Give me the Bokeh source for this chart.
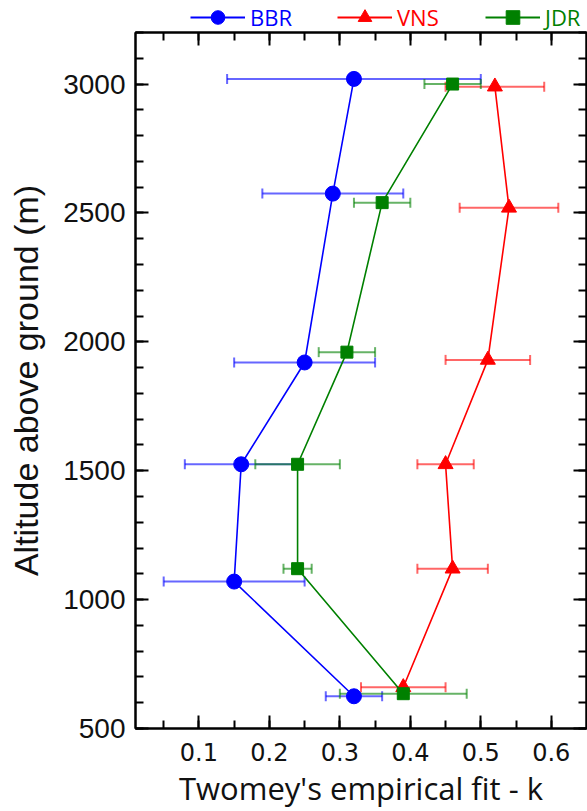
from bokeh.plotting import figure
from bokeh.layouts import column
from bokeh.models import (ColumnDataSource, Whisker, TeeHead, Legend, LegendItem,
                          LinearAxis, SingleIntervalTicker, Range1d, CustomJSTickFormatter)
from bokeh.embed import file_html
from bokeh.resources import INLINE

# ---- data ----
alt_bbr = [3020, 2575, 1920, 1525, 1070, 625]
k_bbr = [0.32, 0.29, 0.25, 0.16, 0.15, 0.32]
lo_bbr = [0.14, 0.19, 0.15, 0.08, 0.05, 0.28]
hi_bbr = [0.50, 0.39, 0.35, 0.24, 0.25, 0.36]

alt_vns = [2990, 2520, 1930, 1525, 1120, 660]
k_vns = [0.52, 0.54, 0.51, 0.45, 0.46, 0.39]
lo_vns = [0.45, 0.47, 0.45, 0.41, 0.41, 0.33]
hi_vns = [0.59, 0.61, 0.57, 0.49, 0.51, 0.45]

alt_jdr = [3000, 2540, 1960, 1525, 1120, 635]
k_jdr = [0.46, 0.36, 0.31, 0.24, 0.24, 0.39]
lo_jdr = [0.42, 0.32, 0.27, 0.18, 0.22, 0.30]
hi_jdr = [0.50, 0.40, 0.35, 0.30, 0.26, 0.48]

series_names = ["BBR", "VNS", "JDR"]
series_colors = ["#0000FF", "#FF0000", "#008000"]
series_markers = ["circle", "triangle", "square"]
series_sizes = [15, 15, 12]

x_label = "Twomey's empirical fit - k"
y_label = "Altitude above ground (m)"

# ---- legend strip (separate small figure above the plot; its frame aligns with the plot's) ----
lg = figure(width=587, height=31, output_backend="svg", toolbar_location=None,
            x_axis_location=None, y_axis_location=None,
            min_border_left=0, min_border_right=0, min_border_top=0, min_border_bottom=0,
            x_range=Range1d(0, 1), y_range=Range1d(0, 1))
lg.grid.visible = False
lg.outline_line_color = None

# ---- main plot ----
p = figure(width=587, height=780, output_backend="svg", toolbar_location=None,
           x_range=Range1d(0.01, 0.65), y_range=Range1d(500, 3200),
           min_border_left=135, min_border_right=1, min_border_top=1,
           min_border_bottom=79)
p.grid.visible = False
p.outline_line_color = "black"
p.outline_line_width = 2
p.background_fill_color = "white"

xt = SingleIntervalTicker(interval=0.1, num_minor_ticks=2)
yt = SingleIntervalTicker(interval=500, num_minor_ticks=5)


def style_axis(ax, ticker, show_labels):
    ax.ticker = ticker
    ax.axis_line_color = "black"
    ax.axis_line_width = 2
    ax.major_tick_line_color = "black"
    ax.minor_tick_line_color = "black"
    ax.major_tick_line_width = 2
    ax.minor_tick_line_width = 2
    ax.major_tick_in = 13
    ax.major_tick_out = 0
    ax.minor_tick_in = 8
    ax.minor_tick_out = 0
    if not show_labels:
        ax.formatter = CustomJSTickFormatter(code="return ''")
        ax.major_label_text_font_size = "1px"
        ax.major_label_standoff = 0


style_axis(p.xaxis[0], xt, True)
style_axis(p.yaxis[0], yt, True)

p.xaxis.major_label_text_font = "DejaVu Sans"
p.xaxis.major_label_text_font_size = "24px"
p.xaxis.major_label_text_color = "#111111"
p.xaxis.major_label_standoff = 14
p.xaxis.axis_label = x_label
p.xaxis.axis_label_text_font = "Open Sans"
p.xaxis.axis_label_text_font_size = "31px"
p.xaxis.axis_label_text_font_style = "normal"
p.xaxis.axis_label_text_color = "#111111"
p.xaxis.axis_label_standoff = 3

p.yaxis.major_label_text_font = "Liberation Sans"
p.yaxis.major_label_text_font_size = "28px"
p.yaxis.major_label_text_color = "#111111"
p.yaxis.major_label_standoff = 10
p.yaxis.axis_label = y_label
p.yaxis.axis_label_text_font = "Liberation Sans"
p.yaxis.axis_label_text_font_size = "34px"
p.yaxis.axis_label_text_font_style = "normal"
p.yaxis.axis_label_text_color = "#111111"
p.yaxis.axis_label_standoff = 15

top_ax = LinearAxis()
style_axis(top_ax, SingleIntervalTicker(interval=0.1, num_minor_ticks=2), False)
p.add_layout(top_ax, "above")
right_ax = LinearAxis()
style_axis(right_ax, SingleIntervalTicker(interval=500, num_minor_ticks=5), False)
p.add_layout(right_ax, "right")

all_data = [
    (k_bbr, alt_bbr, lo_bbr, hi_bbr),
    (k_vns, alt_vns, lo_vns, hi_vns),
    (k_jdr, alt_jdr, lo_jdr, hi_jdr),
]

legend_x = [55, 202, 350]
for (k, alt, lo, hi), name, color, marker, size, lx in zip(
        all_data, series_names, series_colors, series_markers, series_sizes, legend_x):
    src = ColumnDataSource(dict(k=k, alt=alt, lo=lo, hi=hi))
    w = Whisker(source=src, base="alt", lower="lo", upper="hi", dimension="width",
                line_color=color, line_alpha=0.6, line_width=2, level="underlay",
                lower_head=TeeHead(size=10, line_color=color, line_alpha=0.6, line_width=2),
                upper_head=TeeHead(size=10, line_color=color, line_alpha=0.6, line_width=2))
    p.add_layout(w)
    p.line("k", "alt", source=src, line_color=color, line_width=1.6)
    p.scatter("k", "alt", source=src, marker=marker, size=size,
              fill_color=color, line_color=color)

    # legend entry in the strip; these renderers use the same data, which falls
    # outside the strip's range, so only their legend keys are seen
    lr = lg.line("k", "alt", source=src, line_color=color, line_width=2)
    sr = lg.scatter("k", "alt", source=src, marker=marker, size=size,
                    fill_color=color, line_color=color)
    leg = Legend(items=[LegendItem(label=name, renderers=[lr, sr])],
                 location=(lx, -3), orientation="horizontal",
                 border_line_color=None, background_fill_alpha=0,
                 padding=0, margin=0, spacing=0,
                 glyph_width=55, glyph_height=34, label_standoff=5,
                 label_text_font="Open Sans", label_text_font_size="22px",
                 label_text_color=color, label_height=20)
    lg.add_layout(leg, "center")

layout = column(lg, p, spacing=0)
open("out.html", "w").write(file_html(layout, INLINE))
